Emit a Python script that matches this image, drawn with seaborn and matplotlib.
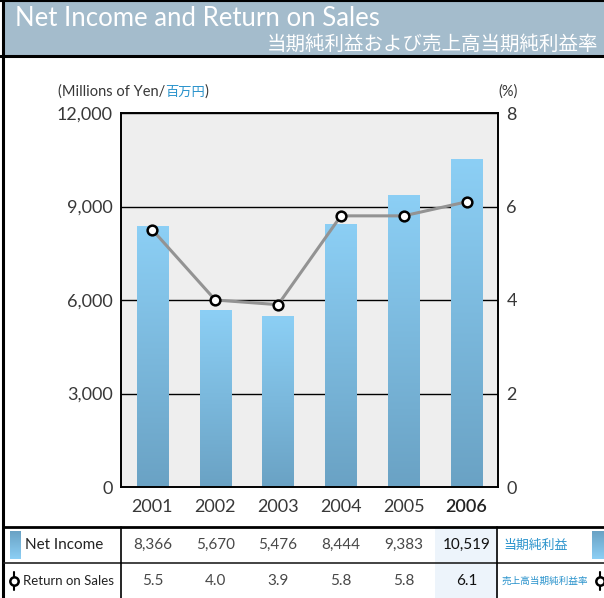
import numpy as np
import pandas as pd
import matplotlib
matplotlib.use("Agg")
import matplotlib.pyplot as plt
import seaborn as sns
from matplotlib.colors import LinearSegmentedColormap
from matplotlib.transforms import blended_transform_factory

# data
years = ["2001", "2002", "2003", "2004", "2005", "2006"]
net_income = [8366, 5670, 5476, 8444, 9383, 10519]
return_on_sales = [5.5, 4.0, 3.9, 5.8, 5.8, 6.1]
yen_ticks = [0, 3000, 6000, 9000, 12000]
pct_ticks = [0, 2, 4, 6, 8]

title_en = "Net Income and Return on Sales"
title_jp = "当期純利益および売上高当期純利益率"
row_labels = ["Net Income", "Return on Sales"]
row_labels_jp = ["当期純利益", "売上高当期純利益率"]

sns.set_theme(style="white")
plt.rcParams["font.family"] = ["Lato", "Noto Sans CJK JP", "DejaVu Sans"]

TXT = "#383838"
BLUE_TXT = "#2a93cc"
bar_cmap = LinearSegmentedColormap.from_list("bar", ["#6aa2c4", "#8ccff5"])
grad = np.linspace(0, 1, 256).reshape(-1, 1)

fig = plt.figure(figsize=(6.04, 5.98), dpi=100)

# overlay in pixel coordinates for frame, title bar and table
ov = fig.add_axes([0, 0, 1, 1], zorder=0)
ov.set_xlim(0, 604)
ov.set_ylim(598, 0)
ov.axis("off")

ov.add_patch(plt.Rectangle((4, 2), 600, 53, facecolor="#a4bccc", edgecolor="none"))
ov.plot([0, 604], [1, 1], color="black", lw=1.5)
ov.plot([0, 604], [56, 56], color="black", lw=2.2)
ov.plot([2.5, 2.5], [0, 598], color="black", lw=2.2)
ov.text(15, 18, title_en, color="white", fontsize=18.5, va="center", ha="left")
ov.text(598, 44, title_jp, color="white", fontsize=14, va="center", ha="right")

# main axes
ax = fig.add_axes([121 / 604, 1 - 487 / 598, 377 / 604, 374 / 598], zorder=1)
ax.set_facecolor("#eeeeee")
df = pd.DataFrame({"year": years, "net_income": net_income})
sns.barplot(data=df, x="year", y="net_income", width=0.5, ax=ax,
            color="#8ccff5", saturation=1)
for p in ax.patches:
    x0, y0 = p.get_x(), p.get_y()
    w, h = p.get_width(), p.get_height()
    im = ax.imshow(grad, extent=[x0, x0 + w, y0, y0 + h], origin="lower",
                   aspect="auto", cmap=bar_cmap, zorder=2)
    im.set_clip_path(p)
    p.set_facecolor("none")
    p.set_edgecolor("none")

ax.set_xlim(-0.5, len(years) - 0.5)
ax.set_ylim(yen_ticks[0], yen_ticks[-1])
ax.set_yticks(yen_ticks)
ax.set_yticklabels([f"{v:,}" for v in yen_ticks])
ax.set_axisbelow(True)
ax.yaxis.grid(True, color="black", lw=1)
ax.set_xlabel("")
ax.set_ylabel("")
for s in ax.spines.values():
    s.set_color("black")
    s.set_linewidth(1.4)
ax.tick_params(axis="both", length=0, labelsize=13, colors=TXT)
ax.tick_params(axis="y", pad=6)
ax.tick_params(axis="x", pad=9)
for lab in ax.get_xticklabels():
    if lab.get_text() == years[-1]:
        lab.set_fontweight("semibold")
        lab.set_color("#222222")

ax2 = ax.twinx()
ax2.set_zorder(2)
ax2.patch.set_visible(False)
sns.lineplot(x=np.arange(len(years)), y=return_on_sales, ax=ax2,
             color="#939393", lw=2.2, marker="o", markersize=7,
             markerfacecolor="white", markeredgecolor="black",
             markeredgewidth=1.8)
ax2.set_ylim(pct_ticks[0], pct_ticks[-1])
ax2.set_yticks(pct_ticks)
ax2.tick_params(axis="y", length=0, labelsize=13, colors=TXT, pad=6)
for s in ax2.spines.values():
    s.set_visible(False)

# axis unit labels
t1 = ov.text(58, 92, "(Millions of Yen/", fontsize=10.5, color=TXT, va="center")
t2 = ov.annotate("百万円", xy=(1, 0.5), xycoords=t1, va="center", fontsize=9.5,
                 color=BLUE_TXT)
ov.annotate(")", xy=(1, 0.5), xycoords=t2, va="center", fontsize=10.5, color=TXT)
ov.text(508, 92, "(%)", fontsize=10.5, color=TXT, va="center", ha="center")

# table
tr = blended_transform_factory(ax.transData, ov.transData)
ov.add_patch(plt.Rectangle((len(years) - 1.5, 528), 1, 70, transform=tr,
                           facecolor="#edf4fb", edgecolor="none"))
ov.plot([4, 604], [527, 527], color="black", lw=2)
ov.plot([4, 604], [563, 563], color="#222222", lw=1.2)
ov.plot([121, 121], [527, 598], color="black", lw=1.2)
ov.plot([497, 497], [527, 598], color="black", lw=1.2)

for i, (ni, rs) in enumerate(zip(net_income, return_on_sales)):
    last = i == len(years) - 1
    kw = dict(transform=tr, ha="center", va="center", fontsize=11,
              color="#111111" if last else "#484848")
    ov.text(i, 545, f"{ni:,}", **kw)
    ov.text(i, 581, f"{rs:.1f}", **kw)

ov.text(25, 545, row_labels[0], fontsize=11, color="#222222", va="center")
ov.text(23, 581, row_labels[1], fontsize=9.5, color="#222222", va="center")
ov.text(503, 545, row_labels_jp[0], fontsize=9.3, color=BLUE_TXT, va="center")
ov.text(502, 581, row_labels_jp[1], fontsize=6.9, color=BLUE_TXT, va="center")

# legend keys
for x0, x1 in [(10, 21), (592, 604)]:
    ov.imshow(grad, extent=[x0, x1, 559, 531], origin="upper", aspect="auto",
              cmap=bar_cmap)
for xm in [14, 600]:
    ov.plot([xm, xm], [572, 590], color="black", lw=1.5)
    ov.plot([xm], [581], marker="o", ms=6, mfc="white", mec="black", mew=1.8)
ov.set_xlim(0, 604)
ov.set_ylim(598, 0)

fig.savefig("out.png", dpi=100)
